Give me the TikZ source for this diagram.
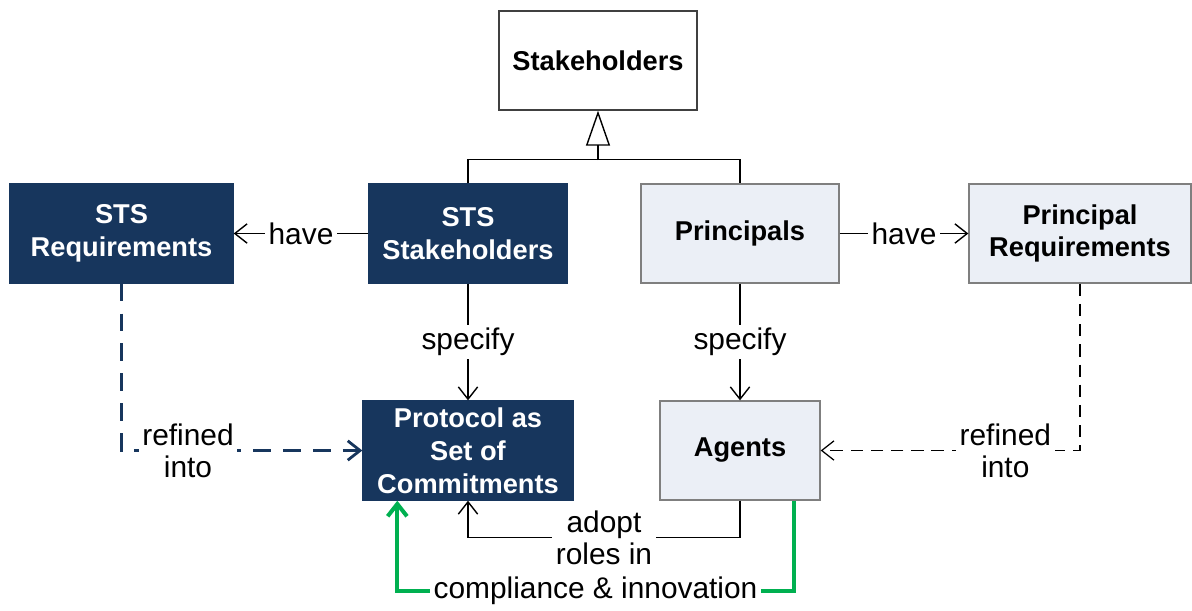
\documentclass[tikz,border=0pt]{standalone}
\usepackage{fontspec}
\setmainfont{Liberation Sans}
\usetikzlibrary{calc,arrows.meta}
\definecolor{navy}{HTML}{17365D}
\definecolor{paleblue}{HTML}{EBEFF6}
\definecolor{boxgray}{HTML}{7F7F7F}
\definecolor{okgreen}{HTML}{00B050}
\tikzset {>={Straight Barb[length=7pt,width=11pt]}}
\tikzset{
  darkbox/.style={draw=navy,fill=navy,text=white,font=\fontsize{15.5}{18.7}\selectfont\bfseries,
    align=center,minimum height=1.98cm,inner sep=2pt},
  lightbox/.style={draw=boxgray,fill=paleblue,font=\fontsize{15.5}{18.7}\selectfont\bfseries,
    align=center,minimum height=1.98cm,inner sep=2pt},
  lbl/.style={fill=white,font=\fontsize{17}{18}\selectfont,align=center,inner sep=2pt}
}

\begin{document}
\begin{tikzpicture}[x=0.02cm,y=-0.02cm,line width=0.8pt]
\useasboundingbox (0,0) rectangle (1192,610);

% Place the boxes
\node[draw=black!75,fill=white,font=\fontsize{15.5}{18.7}\selectfont\bfseries,
  minimum width=3.96cm,minimum height=1.98cm] (stake) at (598,60.5) {Stakeholders};
\node[darkbox,minimum width=4.46cm] (stsreq) at (121.5,233.5) {STS\\Requirements};
\node[darkbox,minimum width=3.96cm] (stsst) at (468,233.5) {STS\\Stakeholders};
\node[lightbox,minimum width=3.96cm] (princ) at (740,233.5) {Principals};
\node[lightbox,minimum width=4.44cm] (princreq) at (1080,233.5) {Principal\\Requirements};
\node[darkbox,minimum width=4.2cm] (proto) at (468,450.5) {Protocol as\\Set of\\Commitments};
\node[lightbox,minimum width=3.2cm] (agents) at (740,450.5) {Agents};

% Draw generalisation to stakeholders
\draw (stsst.north) -- ++(0,-24) -| (princ.north);
\coordinate (gen) at (stake.south |- 0,160);
\draw [-{Triangle[open,length=0.7cm,width=0.48cm]}] (gen) -- (stake.south);

% Draw have and specify arrows
\draw [->] (stsst.west) -- node[lbl] {have} (stsreq.east);
\draw [->] (princ.east) -- node[lbl] {have} (princreq.west);
\draw [->] (stsst.south) -- node[lbl] {specify} (proto.north);
\draw [->] (princ.south) -- node[lbl] {specify} (agents.north);

% Draw refinements
\draw [->,navy,line width=1.6pt,dash pattern=on 10pt off 7pt] (stsreq.south) |-
  node[lbl,text=black,pos=0.638] {refined\\into} (proto.west);
\draw [->,line width=0.7pt,dash pattern=on 7pt off 4.5pt] (princreq.south) |-
  node[lbl,pos=0.644] {refined\\into} (agents.east);

% Draw role adoption
\draw [->] (agents.south) -- ++(0,37) -| node[lbl,pos=0.25] {adopt\\roles in} (proto.south);
\coordinate (g1) at ($(agents.south east)+(-27,0)$);
\coordinate (g2) at ($(proto.south west)+(35,0)$);
\draw [->,okgreen,line width=2.3pt] (g1) -- ++(0,90) -| node[lbl,text=black,pos=0.25] {compliance \& innovation} (g2);
\end{tikzpicture}
\end{document}
